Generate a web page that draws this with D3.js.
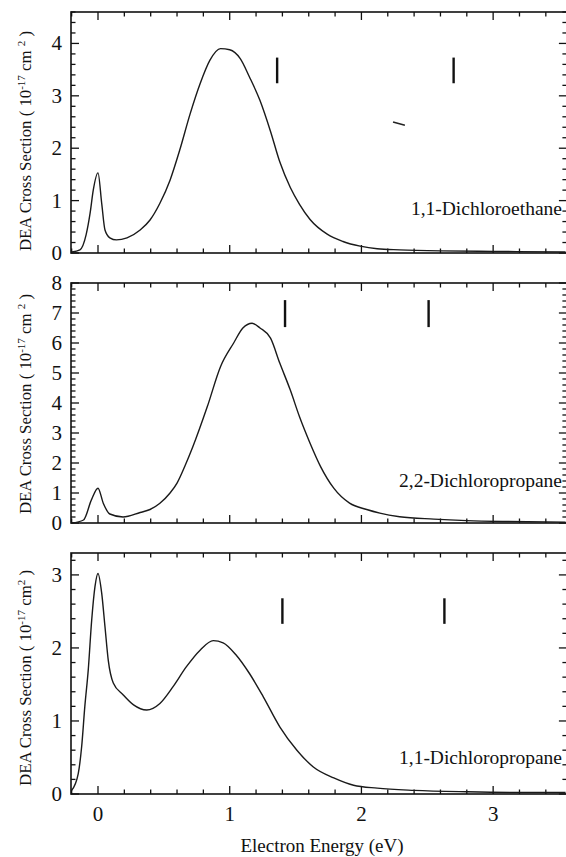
<!DOCTYPE html>
<html>
<head>
<meta charset="utf-8">
<script src="https://cdn.jsdelivr.net/npm/d3@7"></script>
<style>
  body { margin: 0; background: #fff; }
  svg text { font-family: "Liberation Serif", "Times New Roman", serif; fill: #111; }
</style>
</head>
<body>
<svg id="chart" width="566" height="857"></svg>
<script>
// ---------- data ----------
var xMajorTicks = [0, 1, 2, 3];

// 1,1-Dichloroethane
var energyA = [-0.2, -0.137, -0.09, -0.06, -0.036, 0, 0.028, 0.053, 0.09, 0.14, 0.22, 0.32, 0.395, 0.47, 0.547, 0.62, 0.70, 0.775, 0.85, 0.93, 1.0, 1.08, 1.15, 1.23, 1.31, 1.38, 1.46, 1.53, 1.61, 1.74, 1.86, 1.99, 2.12, 2.29, 2.6, 3.0, 3.55];
var sigmaA  = [0.02, 0.06, 0.35, 0.76, 1.2, 1.53, 0.95, 0.44, 0.29, 0.25, 0.29, 0.44, 0.63, 0.95, 1.39, 1.96, 2.66, 3.23, 3.68, 3.9, 3.88, 3.71, 3.36, 2.91, 2.32, 1.74, 1.25, 0.93, 0.64, 0.36, 0.22, 0.13, 0.08, 0.06, 0.04, 0.03, 0.02];

// 2,2-Dichloropropane
var energyB = [-0.2, -0.11, -0.05, 0, 0.04, 0.09, 0.19, 0.32, 0.395, 0.47, 0.547, 0.6, 0.66, 0.72, 0.83, 0.93, 1.03, 1.10, 1.17, 1.23, 1.31, 1.38, 1.46, 1.53, 1.61, 1.69, 1.79, 1.91, 2.04, 2.14, 2.29, 2.55, 2.8, 3.1, 3.55];
var sigmaB  = [0.0, 0.1, 0.77, 1.16, 0.66, 0.3, 0.2, 0.35, 0.45, 0.66, 1.0, 1.33, 1.9, 2.54, 3.88, 5.21, 6.0, 6.5, 6.66, 6.5, 6.16, 5.33, 4.43, 3.54, 2.66, 1.88, 1.16, 0.66, 0.45, 0.33, 0.21, 0.13, 0.08, 0.05, 0.03];

// 1,1-Dichloropropane
var energyC = [-0.2, -0.15, -0.124, -0.1, -0.074, -0.048, -0.023, 0, 0.028, 0.053, 0.078, 0.116, 0.19, 0.27, 0.37, 0.47, 0.57, 0.67, 0.775, 0.875, 0.95, 1.05, 1.15, 1.255, 1.38, 1.51, 1.635, 1.79, 1.94, 2.12, 2.4, 2.8, 3.2, 3.55];
var sigmaC  = [0.05, 0.28, 0.65, 1.2, 1.7, 2.38, 2.84, 3.02, 2.75, 2.29, 1.83, 1.52, 1.36, 1.22, 1.15, 1.24, 1.47, 1.74, 1.97, 2.10, 2.07, 1.90, 1.65, 1.33, 0.92, 0.60, 0.37, 0.22, 0.12, 0.08, 0.05, 0.03, 0.02, 0.02];

var panelNames = ["1,1-Dichloroethane", "2,2-Dichloropropane", "1,1-Dichloropropane"];
var yMax = [4.6, 8, 3.3];
var yMajorTicks = [[0, 1, 2, 3, 4], [0, 1, 2, 3, 4, 5, 6, 7, 8], [0, 1, 2, 3]];
// vertical marker bars: energy, bottom value, top value
var markerEnergy = [[1.36, 2.70], [1.42, 2.51], [1.40, 2.63]];
var markerLow = [3.24, 6.53, 2.33];
var markerHigh = [3.73, 7.43, 2.68];
var xTitle = "Electron Energy (eV)";

// ----------
var svg = d3.select("#chart");
var left = 71, right = 566.9;
var panelTop = [12, 283, 553];
var panelBottom = [253, 523, 794];
var titleCenter = [141, 404, 678];
var labelBaseline = [215, 487, 764];

var x = d3.scaleLinear().domain([-0.205, 3.56]).range([left, right]);
var xMinor = d3.range(-0.2, 3.5, 0.2).map(function(d) { return Math.round(d * 10) / 10; });

var energies = [energyA, energyB, energyC];
var sigmas = [sigmaA, sigmaB, sigmaC];

for (var p = 0; p < 3; p++) {
    var y = d3.scaleLinear().domain([0, yMax[p]]).range([panelBottom[p], panelTop[p]]);
    var g = svg.append("g");
    var yMinor = d3.range(0, yMax[p] + 0.001, 0.2);

    // ticks, all pointing inward
    var tickG = g.append("g").attr("stroke", "#111").attr("stroke-width", 1.3);
    xMinor.forEach(function(d) {
        var major = Math.abs(d - Math.round(d)) < 1e-6;
        var len = major ? 8 : 4.5;
        tickG.append("line").attr("x1", x(d)).attr("x2", x(d))
            .attr("y1", panelBottom[p]).attr("y2", panelBottom[p] - len);
        tickG.append("line").attr("x1", x(d)).attr("x2", x(d))
            .attr("y1", panelTop[p]).attr("y2", panelTop[p] + len);
    });
    yMinor.forEach(function(d) {
        var major = Math.abs(d - Math.round(d)) < 1e-6;
        var len = major ? 8 : 4.5;
        tickG.append("line").attr("x1", left).attr("x2", left + len)
            .attr("y1", y(d)).attr("y2", y(d));
        tickG.append("line").attr("x1", right).attr("x2", right - len)
            .attr("y1", y(d)).attr("y2", y(d));
    });

    // frame
    g.append("rect")
        .attr("x", left).attr("y", panelTop[p])
        .attr("width", right - left).attr("height", panelBottom[p] - panelTop[p])
        .attr("fill", "none").attr("stroke", "#111").attr("stroke-width", 1.6);

    // y tick labels
    g.selectAll("text.ytick").data(yMajorTicks[p]).enter().append("text")
        .attr("class", "ytick")
        .attr("x", 62).attr("y", function(d) { return y(d) + 7; })
        .attr("text-anchor", "end").attr("font-size", 21)
        .text(function(d) { return d; });

    // y title
    var t = g.append("text")
        .attr("transform", "translate(31," + titleCenter[p] + ") rotate(-90)")
        .attr("text-anchor", "middle").attr("font-size", 16.8);
    t.append("tspan").text("DEA Cross Section ( 10");
    t.append("tspan").attr("dy", -6).attr("font-size", 11).text("-17");
    t.append("tspan").attr("dy", 6).text(p < 2 ? " cm " : " cm");
    t.append("tspan").attr("dy", -6).attr("font-size", 11).text("2");
    t.append("tspan").attr("dy", 6).text(" )");

    // curve
    var pts = energies[p].map(function(e, i) { return [e, sigmas[p][i]]; });
    var line = d3.line()
        .x(function(d) { return x(d[0]); })
        .y(function(d) { return y(d[1]); })
        .curve(d3.curveMonotoneX);
    g.append("path").datum(pts)
        .attr("d", line)
        .attr("fill", "none").attr("stroke", "#1a1a1a").attr("stroke-width", 1.4);

    // marker bars
    markerEnergy[p].forEach(function(e) {
        g.append("line")
            .attr("x1", x(e)).attr("x2", x(e))
            .attr("y1", y(markerLow[p])).attr("y2", y(markerHigh[p]))
            .attr("stroke", "#111").attr("stroke-width", 2.4);
    });

    // compound label
    g.append("text")
        .attr("x", 562).attr("y", labelBaseline[p])
        .attr("text-anchor", "end").attr("font-size", 19.5)
        .text(panelNames[p]);

    // bottom panel gets the x axis labels
    if (p == 2) {
        g.selectAll("text.xtick").data(xMajorTicks).enter().append("text")
            .attr("class", "xtick")
            .attr("x", function(d) { return x(d); }).attr("y", 821)
            .attr("text-anchor", "middle").attr("font-size", 21)
            .text(function(d) { return d; });
        g.append("text")
            .attr("x", 322).attr("y", 852)
            .attr("text-anchor", "middle").attr("font-size", 19)
            .text(xTitle);
    }

    // small stray dash seen in the top panel
    if (p == 0) {
        g.append("line")
            .attr("x1", x(2.24)).attr("x2", x(2.33))
            .attr("y1", y(2.50)).attr("y2", y(2.44))
            .attr("stroke", "#222").attr("stroke-width", 1.5);
    }
}
</script>
</body>
</html>
